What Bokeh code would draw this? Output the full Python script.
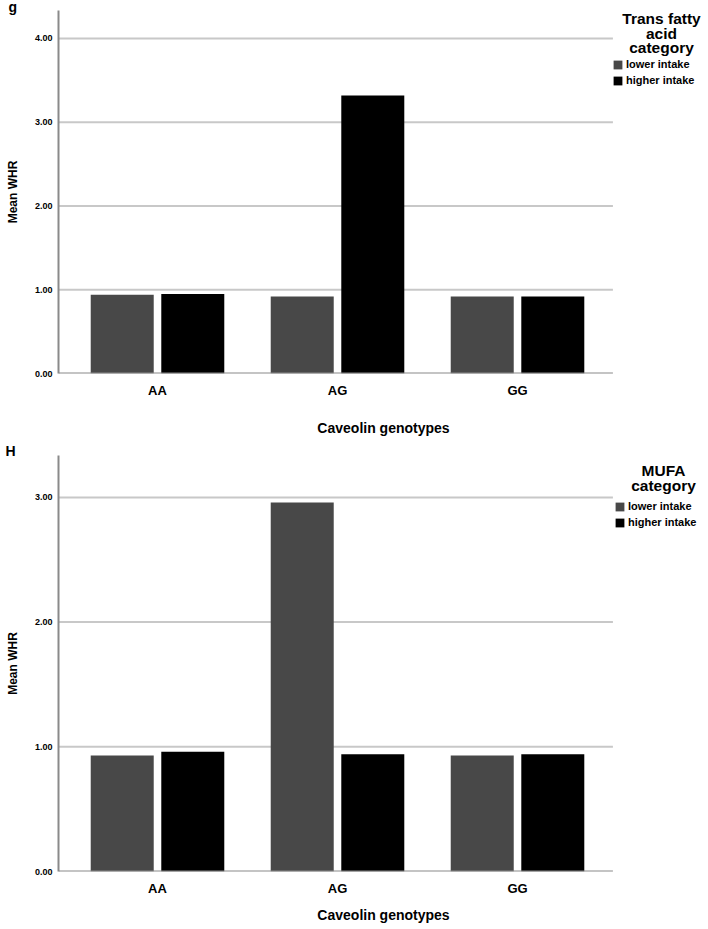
import numpy as np
from bokeh.plotting import figure
from bokeh.models import (Range1d, ColumnDataSource, FixedTicker,
                          NumeralTickFormatter, Legend, LegendItem, Label)
from bokeh.transform import dodge
from bokeh.layouts import column
from bokeh.embed import file_html
from bokeh.resources import INLINE

genotypes = ["AA", "AG", "GG"]
tfa_lower = [0.94, 0.92, 0.92]
tfa_higher = [0.95, 3.32, 0.92]
mufa_lower = [0.93, 2.96, 0.93]
mufa_higher = [0.96, 0.94, 0.94]
tfa_ticks = [0, 1, 2, 3, 4]
mufa_ticks = [0, 1, 2, 3]
series_labels = ["lower intake", "higher intake"]

LOWER = "#484848"
HIGHER = "#000000"
GRID = "#c8c8c8"
AXIS = "#8a8a8a"
FONT = "Liberation Sans"

X_START, X_END, X_PLOT_END = -0.55, 3.061, 2.53


def make_chart(lower, higher, ticks, ymax, letter, letter_offset, letter_standoff,
               title_lines, fh, bb, xl_standoff, xt_standoff,
               title_x, title_top, leg_x, leg_bottom):
    idx = np.arange(len(genotypes))
    src = ColumnDataSource(dict(i=idx, lower=lower, higher=higher))
    p = figure(x_range=Range1d(X_START, X_END), y_range=Range1d(0, ymax),
               frame_width=650, frame_height=fh,
               output_backend="svg", toolbar_location=None,
               min_border_top=0, min_border_bottom=bb,
               min_border_left=58, min_border_right=0)
    # gridlines and baseline limited to the plotting area
    grid_src = ColumnDataSource(dict(y=[t for t in ticks if t > 0]))
    p.segment(x0=X_START, x1=X_PLOT_END, y0="y", y1="y", source=grid_src,
              line_color=GRID, line_width=2)
    r1 = p.vbar(x=dodge("i", -0.196), top="lower", width=0.35, source=src,
                fill_color=LOWER, line_color=None)
    r2 = p.vbar(x=dodge("i", 0.196), top="higher", width=0.35, source=src,
                fill_color=HIGHER, line_color=None)
    p.segment(x0=X_START, x1=X_PLOT_END, y0=0, y1=0, line_color=AXIS,
              line_width=2)

    p.title.text = letter
    p.title.align = "left"
    p.title.offset = letter_offset
    p.title.standoff = letter_standoff
    p.title.text_font = FONT
    p.title.text_font_style = "bold"
    p.title.text_font_size = "14px"
    p.title.text_color = "black"
    p.outline_line_color = None
    p.grid.grid_line_color = None

    p.yaxis.ticker = FixedTicker(ticks=ticks)
    p.yaxis.formatter = NumeralTickFormatter(format="0.00")
    p.xaxis.ticker = FixedTicker(ticks=list(idx))
    p.xaxis.major_label_overrides = {int(i): g for i, g in zip(idx, genotypes)}
    for ax in (p.xaxis[0], p.yaxis[0]):
        ax.major_tick_line_color = None
        ax.minor_tick_line_color = None
        ax.major_tick_out = 0
        ax.major_tick_in = 0
        ax.minor_tick_out = 0
        ax.minor_tick_in = 0
        ax.major_label_text_font = FONT
        ax.major_label_text_font_style = "bold"
        ax.axis_label_text_font = FONT
        ax.axis_label_text_font_style = "bold"
        ax.axis_label_text_color = "black"
        ax.major_label_text_color = "black"
    p.xaxis.axis_line_color = None
    p.yaxis.axis_line_color = AXIS
    p.yaxis.axis_line_width = 2
    p.yaxis.major_label_text_font_size = "9px"
    p.yaxis.major_label_standoff = 6
    p.yaxis.axis_label = "Mean WHR"
    p.yaxis.axis_label_text_font_size = "12px"
    p.yaxis.axis_label_standoff = 12
    p.xaxis.major_label_text_font_size = "13px"
    p.xaxis.major_label_standoff = xl_standoff
    p.xaxis.axis_label = "Caveolin genotypes"
    p.xaxis.axis_label_text_font_size = "14px"
    p.xaxis.axis_label_standoff = xt_standoff

    legend = Legend(items=[LegendItem(label=series_labels[0], renderers=[r1]),
                           LegendItem(label=series_labels[1], renderers=[r2])],
                    location=(leg_x, leg_bottom))
    legend.label_text_font = FONT
    legend.label_text_font_style = "bold"
    legend.label_text_font_size = "11px"
    legend.label_text_color = "black"
    legend.glyph_width = 11
    legend.glyph_height = 11
    legend.label_height = 14
    legend.label_standoff = 3
    legend.spacing = 2
    legend.padding = 0
    legend.margin = 0
    legend.border_line_color = None
    legend.background_fill_alpha = 0
    p.add_layout(legend, "center")

    for k, line in enumerate(title_lines):
        p.add_layout(Label(x=title_x, y=title_top - 14.5 * k, x_units="screen",
                           y_units="screen", text=line, text_font=FONT,
                           text_font_style="bold", text_font_size="15.5px",
                           text_color="black",
                           text_align="center", text_baseline="middle"))
    return p


c1 = make_chart(tfa_lower, tfa_higher, tfa_ticks, 4.334, "g", -50, -8,
                ["Trans fatty", "acid", "category"], 363, 71, 9, 19,
                603, 355, 554, 286)
c2 = make_chart(mufa_lower, mufa_higher, mufa_ticks, 3.336, "H", -53, -7,
                ["MUFA", "category"], 416, 56, 9, 8,
                605, 401, 556, 342)

layout = column(c1, c2, spacing=0)
open("out.html", "w").write(file_html(layout, INLINE))
